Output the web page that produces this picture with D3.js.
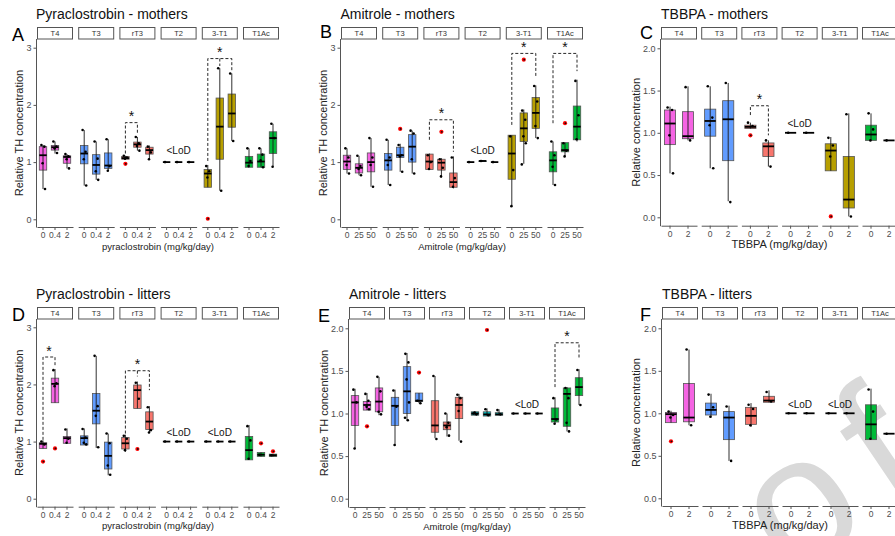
<!DOCTYPE html>
<html>
<head>
<meta charset="utf-8">
<script src="https://cdn.jsdelivr.net/npm/d3@7"></script>
<style>
body { margin: 0; background: #fff; }
svg { display: block; }
</style>
</head>
<body>
<script>
var FONT = '"Liberation Sans", Arial, sans-serif';

var analytes = ["T4", "T3", "rT3", "T2", "3-T1", "T1Ac"];
var colors = ["#F564E3", "#619CFF", "#F8766D", "#00BFC4", "#B79F00", "#00BA38"];
var dosesPyra = ["0", "0.4", "2"];
var dosesAmi = ["0", "25", "50"];
var dosesTbbpa = ["0", "2"];

// box stats per analyte, per dose: [lower whisker, q1, median, q3, upper whisker]
// points: individual animals; out: [analyte, dose, value]; sig: [analyte, from, to, top, left end, right end, middle end]
var boxA = [
	[[0.53,0.86,1.12,1.27,1.30],[1.15,1.21,1.26,1.29,1.36],[0.89,0.98,1.09,1.11,1.14]],
	[[0.59,0.97,1.15,1.29,1.56],[0.69,0.79,0.95,1.13,1.36],[0.85,0.89,0.94,1.16,1.40]],
	[[1.05,1.05,1.07,1.10,1.11],[1.20,1.26,1.31,1.35,1.44],[1.05,1.14,1.21,1.26,1.29]],
	[[1,1,1,1,1],[1,1,1,1,1],[1,1,1,1,1]],
	[[0.56,0.56,0.80,0.87,0.95],[0.50,1.05,1.62,2.12,2.64],[1.37,1.61,1.85,2.19,2.55]],
	[[0.91,0.91,0.99,1.10,1.24],[0.91,0.91,1.01,1.14,1.24],[0.92,1.15,1.42,1.53,1.67]]
];
var ptsA = [
	[[1.30,1.27,0.98,0.53],[1.36,1.27,1.24,1.16],[1.14,1.10,1.05,0.89]],
	[[1.56,1.18,1.05,0.59],[1.36,1.06,0.84,0.69],[1.40,0.93,0.85]],
	[[1.11,1.08,1.06],[1.44,1.33,1.28,1.20],[1.27,1.17,1.05]],
	[[1.0],[1.0],[1.0]],
	[[0.93,0.84,0.73],[2.64,0.50],[2.55,1.37]],
	[[1.24,1.02,0.93],[1.24,1.13,1.03,0.91],[1.67,1.42,0.92]]
];
var outA = [[2,0,0.97],[4,0,0.01]];
var sigA = [[2,0,1,1.69,1.15,1.50,null],[4,0,2,2.81,1.02,2.59,2.68]];
var lodA = [3];

var boxB = [
	[[0.80,0.87,1.01,1.12,1.24],[0.77,0.81,0.90,0.97,1.11],[0.57,0.83,1.00,1.16,1.42]],
	[[0.60,0.86,1.03,1.15,1.39],[0.83,1.08,1.12,1.26,1.32],[0.80,1.00,1.27,1.48,1.55]],
	[[0.87,0.87,1.01,1.14,1.15],[0.73,0.86,0.99,1.05,1.07],[0.54,0.56,0.65,0.81,1.10]],
	[[1,1,1,1,1],[1.01,1.01,1.02,1.02,1.03],[1,1,1,1,1]],
	[[0.23,0.70,1.15,1.47,1.47],[0.97,1.36,1.59,1.86,1.92],[1.42,1.59,1.86,2.13,2.34]],
	[[0.60,0.83,1.03,1.18,1.36],[1.10,1.18,1.21,1.34,1.34],[1.36,1.39,1.62,1.98,2.44]]
];
var ptsB = [
	[[1.24,1.08,0.95,0.80],[1.11,0.93,0.88,0.77],[1.42,1.08,0.95,0.57]],
	[[1.39,1.08,0.95,0.60],[1.30,1.12,1.10,0.83],[1.55,1.50,1.05,0.80]],
	[[1.12,1.00,0.88],[1.05,0.90,0.75],[1.08,0.72,0.57]],
	[[1.0],[1.02],[1.0]],
	[[1.45,0.86,0.23],[1.90,1.74,1.45,1.33,0.96],[2.33,2.06,1.63,1.42]],
	[[1.36,1.12,0.92,0.60],[1.33,1.20,1.10],[2.42,1.82,1.40]]
];
var outB = [[1,1,1.58],[2,1,1.53],[4,1,2.79],[5,1,1.68]];
var sigB = [[2,0,2,1.74,1.39,1.18,null],[4,0,2,2.90,1.65,2.49,null],[5,0,2,2.90,1.68,2.59,null]];
var lodB = [3];

var boxC = [
	[[0.52,0.86,1.11,1.27,1.31],[0.91,0.93,0.96,1.25,1.55]],
	[[0.58,0.96,1.14,1.28,1.55],[0.19,0.67,1.16,1.38,1.59]],
	[[1.05,1.05,1.07,1.09,1.12],[0.60,0.72,0.84,0.88,0.91]],
	[[1,1,1,1,1],[1,1,1,1,1]],
	[[0.55,0.55,0.79,0.87,0.95],[0.01,0.11,0.21,0.72,1.23]],
	[[0.91,0.91,0.98,1.09,1.23],[0.91,0.91,0.91,0.91,0.91]]
];
var ptsC = [
	[[1.30,1.27,0.97,0.52],[1.54,0.91]],
	[[1.55,1.18,1.09,0.58],[1.59,0.18]],
	[[1.12,1.08],[0.91,0.60]],
	[[1.0],[1.0]],
	[[0.94,0.85,0.72],[1.22,0.01]],
	[[1.23,1.04,0.91],[0.91]]
];
var outC = [[2,0,0.97],[4,0,0.01]];
var sigC = [[2,0,1,1.32,1.21,0.97,null]];
var lodC = [3];

var boxD = [
	[[0.88,0.88,0.96,0.98,1.02],[1.68,1.68,2.01,2.11,2.27],[0.97,0.97,1.06,1.09,1.23]],
	[[0.94,0.94,1.06,1.10,1.23],[0.89,1.31,1.54,1.84,2.50],[0.41,0.52,0.75,0.99,1.14]],
	[[0.82,0.87,0.97,1.07,1.12],[1.58,1.58,1.90,1.99,2.05],[1.16,1.21,1.35,1.52,1.62]],
	[[1,1,1,1,1],[1,1,1,1,1],[1,1,1,1,1]],
	[[1,1,1,1,1],[1,1,1,1,1],[1,1,1,1,1]],
	[[0.68,0.68,0.85,1.09,1.29],[0.74,0.74,0.77,0.81,0.81],[0.74,0.74,0.76,0.78,0.78]]
];
var ptsD = [
	[[1.00,0.95],[2.25,2.02,1.97],[1.21,1.05,0.98]],
	[[1.22,1.07,0.98,0.95],[2.50,1.62,1.45,0.90],[1.14,0.97,0.58,0.42]],
	[[1.10,1.05,0.85],[2.03,1.75],[1.60,1.20,1.16]],
	[[1.0],[1.0],[1.0]],
	[[1.0],[1.0],[1.0]],
	[[1.27,1.02,0.70],[0.77],[0.76]]
];
var outD = [[0,0,0.65],[0,1,0.88],[2,1,0.87],[5,1,0.97],[5,2,0.83]];
var sigD = [[0,0,1,2.48,1.03,2.33,null],[2,0,2,2.24,1.14,1.90,2.14]];
var lodD = [3, 4];

var boxE = [
	[[0.59,0.86,1.13,1.21,1.29],[1.04,1.04,1.10,1.14,1.24],[0.98,1.02,1.14,1.30,1.43]],
	[[0.62,0.86,1.09,1.19,1.28],[0.92,1.00,1.26,1.55,1.71],[1.12,1.14,1.15,1.24,1.24]],
	[[0.71,0.78,0.86,1.15,1.44],[0.73,0.81,0.86,0.90,1.00],[0.68,0.94,1.10,1.19,1.23]],
	[[0.98,0.98,1.00,1.02,1.02],[0.97,0.97,0.99,1.02,1.06],[0.98,0.98,0.99,1.01,1.05]],
	[[1,1,1,1,1],[1,1,1,1,1],[1,1,1,1,1]],
	[[0.88,0.90,0.935,1.065,1.19],[0.79,0.85,1.23,1.30,1.31],[1.10,1.21,1.31,1.42,1.52]]
];
var ptsE = [
	[[1.28,1.13,0.59],[1.23,1.15,1.08,1.05],[1.43,1.26,1.02,0.99]],
	[[1.27,1.08,0.63],[1.70,1.60,1.40,1.13,0.95,0.92],[1.15,1.12]],
	[[1.44,0.70],[1.00,0.89,0.84,0.74],[1.22,1.18,1.03,0.67]],
	[[1.0,0.99,1.01],[1.05,0.98],[1.04,0.99]],
	[[1.0],[1.0],[1.0]],
	[[1.18,0.93,0.88],[1.30,1.18,0.89,0.79],[1.51,1.10]]
];
var outE = [[0,1,0.85],[1,2,1.48],[3,1,1.98]];
var sigE = [[5,0,2,1.83,1.31,1.64,null]];
var lodE = [4];

var boxF = [
	[[0.89,0.89,0.99,1.01,1.03],[0.86,0.90,0.95,1.35,1.75]],
	[[0.95,0.98,1.04,1.12,1.23],[0.44,0.69,0.95,1.02,1.09]],
	[[0.84,0.87,0.97,1.07,1.12],[1.13,1.13,1.15,1.20,1.27]],
	[[1,1,1,1,1],[1,1,1,1,1]],
	[[1,1,1,1,1],[1,1,1,1,1]],
	[[0.69,0.69,0.87,1.10,1.29],[0.76,0.76,0.76,0.76,0.76]]
];
var ptsF = [
	[[1.02,0.98,0.95],[1.75,0.86]],
	[[1.22,1.07,0.96],[1.08,0.44]],
	[[1.10,1.05,0.86],[1.25,1.14]],
	[[1.0],[1.0]],
	[[1.0],[1.0]],
	[[1.28,1.02,0.70],[0.76]]
];
var outF = [[0,0,0.67]];
var sigF = [];
var lodF = [3, 4];

var yTicks3 = [0, 1, 2, 3];
var yTicks2 = [0, 0.5, 1, 1.5, 2];

// layout of the six panels
var panels = [
	{ title: "Pyraclostrobin - mothers", letter: "A", lx: 12, ly: 41, titleX: 36,
	  doses: dosesPyra, xlab: "pyraclostrobin (mg/kg/day)", xlabSize: 9.5, ylab: "Relative TH concentration", ylabX: 22.5,
	  x0: 37, step: 41.2, fw: 36, stripTop: 27, y0: 219.3, yMax: 3, yMaxPx: 47.7, bottom: 227,
	  ticks: yTicks3, fmt: "d", box: boxA, pts: ptsA, out: outA, sig: sigA, lod: lodA, lodY: 1.14 },
	{ title: "Amitrole - mothers", letter: "B", lx: 320, ly: 38, titleX: 340.5,
	  doses: dosesAmi, xlab: "Amitrole (mg/kg/day)", xlabSize: 9.5, ylab: "Relative TH concentration", ylabX: 327,
	  x0: 341, step: 41.2, fw: 36, stripTop: 27, y0: 219.3, yMax: 3, yMaxPx: 47.7, bottom: 227,
	  ticks: yTicks3, fmt: "d", box: boxB, pts: ptsB, out: outB, sig: sigB, lod: lodB, lodY: 1.14 },
	{ title: "TBBPA - mothers", letter: "C", lx: 640, ly: 39, titleX: 661,
	  doses: dosesTbbpa, xlab: "TBBPA (mg/kg/day)", xlabSize: 11, ylab: "Relative concentration", ylabX: 639.5,
	  x0: 661, step: 40.2, fw: 36, stripTop: 27, y0: 217.3, yMax: 2, yMaxPx: 48.3, bottom: 225.7,
	  ticks: yTicks2, fmt: ".1f", box: boxC, pts: ptsC, out: outC, sig: sigC, lod: lodC, lodY: 1.065 },
	{ title: "Pyraclostrobin - litters", letter: "D", lx: 12, ly: 320.5, titleX: 36,
	  doses: dosesPyra, xlab: "pyraclostrobin (mg/kg/day)", xlabSize: 9.5, ylab: "Relative TH concentration", ylabX: 22.5,
	  x0: 37, step: 41.2, fw: 36, stripTop: 307, y0: 498.7, yMax: 3, yMaxPx: 327.3, bottom: 506.7,
	  ticks: yTicks3, fmt: "d", box: boxD, pts: ptsD, out: outD, sig: sigD, lod: lodD, lodY: 1.10 },
	{ title: "Amitrole - litters", letter: "E", lx: 318, ly: 321.7, titleX: 349,
	  doses: dosesAmi, xlab: "Amitrole (mg/kg/day)", xlabSize: 9.5, ylab: "Relative TH concentration", ylabX: 327.5,
	  x0: 349, step: 40, fw: 36, stripTop: 307, y0: 498.7, yMax: 2, yMaxPx: 328.3, bottom: 507,
	  ticks: yTicks2, fmt: ".1f", box: boxE, pts: ptsE, out: outE, sig: sigE, lod: lodE, lodY: 1.07 },
	{ title: "TBBPA - litters", letter: "F", lx: 640, ly: 321, titleX: 662,
	  doses: dosesTbbpa, xlab: "TBBPA (mg/kg/day)", xlabSize: 11, ylab: "Relative concentration", ylabX: 640,
	  x0: 662, step: 40, fw: 36, stripTop: 307, y0: 498.3, yMax: 2, yMaxPx: 328.3, bottom: 506,
	  ticks: yTicks2, fmt: ".1f", box: boxF, pts: ptsF, out: outF, sig: sigF, lod: lodF, lodY: 1.06 }
];

var jitter = [-1.6, 1.4, -0.4, 2.0, -2.0, 0.8];

var svg = d3.select("body").append("svg")
	.attr("width", 895)
	.attr("height", 536)
	.style("font-family", FONT);

// proof watermark, behind the plots; only its tail shows in the corner
svg.append("text")
	.attr("transform", "translate(789.5,581.5) rotate(-34)")
	.attr("font-size", 182)
	.style("letter-spacing", "22px")
	.attr("fill", "#d9d9d9")
	.text("of");

panels.forEach(function(p) {
	var g = svg.append("g");
	var y = d3.scaleLinear().domain([0, p.yMax]).range([p.y0, p.yMaxPx]);
	var gap = p.step - p.fw;
	var fx = d3.scaleBand().domain(analytes)
		.range([p.x0, p.x0 + 6 * p.step - gap])
		.paddingInner(gap / p.step).paddingOuter(0);
	var ix = d3.scaleBand().domain(p.doses).range([0, p.fw]);
	var bw = ix.bandwidth() * 0.62;
	var plotTop = p.stripTop + 12;
	var cxOf = function(i, j) { return fx(analytes[i]) + ix(p.doses[j]) + ix.bandwidth() / 2; };

	g.append("text")
		.attr("x", p.titleX).attr("y", p.stripTop - 8)
		.attr("font-size", 14).attr("fill", "#111")
		.text(p.title);
	g.append("text")
		.attr("x", p.lx).attr("y", p.ly)
		.attr("font-size", 18).attr("fill", "#000")
		.text(p.letter);

	// y axis on the first facet only
	var ya = g.append("g")
		.attr("transform", "translate(" + (p.x0 - 0.5) + ",0)")
		.call(d3.axisLeft(y).tickValues(p.ticks).tickFormat(d3.format(p.fmt)).tickSize(3).tickPadding(2));
	ya.attr("font-family", FONT).attr("font-size", 9);
	ya.select(".domain").remove();
	ya.selectAll(".tick line").attr("stroke", "#555");
	ya.selectAll(".tick text").attr("fill", "#4d4d4d");
	g.append("line")
		.attr("x1", p.x0 - 0.5).attr("x2", p.x0 - 0.5)
		.attr("y1", plotTop).attr("y2", p.bottom + 0.5)
		.attr("stroke", "#555");

	g.append("text")
		.attr("transform", "translate(" + p.ylabX + "," + ((plotTop + p.bottom) / 2) + ") rotate(-90)")
		.attr("text-anchor", "middle")
		.attr("font-size", 11).attr("fill", "#222")
		.text(p.ylab);

	g.append("text")
		.attr("x", p.x0 + (6 * p.step - gap) / 2).attr("y", p.bottom + 22.5)
		.attr("text-anchor", "middle")
		.attr("font-size", p.xlabSize).attr("fill", "#222")
		.text(p.xlab);

	analytes.forEach(function(a, i) {
		var fg = g.append("g").attr("transform", "translate(" + fx(a) + ",0)");
		fg.append("rect")
			.attr("x", 0.5).attr("y", p.stripTop + 0.5)
			.attr("width", p.fw - 1).attr("height", 11.5)
			.attr("fill", "#fff").attr("stroke", "#555");
		fg.append("text")
			.attr("x", p.fw / 2).attr("y", p.stripTop + 8.7)
			.attr("text-anchor", "middle")
			.attr("font-size", 7.5).attr("fill", "#333")
			.text(a);

		var xa = fg.append("g")
			.attr("transform", "translate(0," + p.bottom + ")")
			.call(d3.axisBottom(ix).tickSize(3).tickSizeOuter(0).tickPadding(2.2));
		xa.attr("font-family", FONT).attr("font-size", 8.5);
		xa.select(".domain").attr("stroke", "#555");
		xa.selectAll(".tick line").attr("stroke", "#555");
		xa.selectAll(".tick text").attr("fill", "#4d4d4d");

		p.doses.forEach(function(d, j) {
			var s = p.box[i][j];
			var cx = ix(d) + ix.bandwidth() / 2;
			fg.append("rect")
				.attr("x", cx - bw / 2).attr("y", y(s[3]))
				.attr("width", bw).attr("height", Math.max(0, y(s[1]) - y(s[3])))
				.attr("fill", colors[i]).attr("stroke", "#555").attr("stroke-width", 0.8);
			fg.append("line")
				.attr("x1", cx).attr("x2", cx)
				.attr("y1", y(s[0])).attr("y2", y(s[4]))
				.attr("stroke", "#1a1a1a").attr("stroke-width", 0.9);
			fg.append("line")
				.attr("x1", cx - bw / 2).attr("x2", cx + bw / 2)
				.attr("y1", y(s[2])).attr("y2", y(s[2]))
				.attr("stroke", "#000").attr("stroke-width", 1.8);
			fg.selectAll(null)
				.data(p.pts[i][j])
				.enter().append("circle")
				.attr("cx", function(v, k) { return cx + jitter[k % jitter.length] * ix.bandwidth() / 12; })
				.attr("cy", function(v) { return y(v); })
				.attr("r", 1.3)
				.attr("fill", "#000");
		});
	});

	// outliers
	p.out.forEach(function(o) {
		var cx = cxOf(o[0], o[1]);
		g.append("circle").attr("cx", cx).attr("cy", y(o[2])).attr("r", 2.1).attr("fill", "#f00");
		g.append("circle").attr("cx", cx + 0.4).attr("cy", y(o[2])).attr("r", 0.9).attr("fill", "#111");
	});

	// significance brackets
	p.sig.forEach(function(s) {
		var xl = cxOf(s[0], s[1]), xr = cxOf(s[0], s[2]);
		var path = "M" + xl + "," + y(s[4]) + "V" + y(s[3]) + "H" + xr + "V" + y(s[5]);
		if (s[6] != null) {
			var xm = cxOf(s[0], 1);
			path += "M" + xm + "," + y(s[3]) + "V" + y(s[6]);
		}
		g.append("path")
			.attr("d", path)
			.attr("fill", "none").attr("stroke", "#111")
			.attr("stroke-width", 0.9).attr("stroke-dasharray", "3,2");
		g.append("text")
			.attr("x", (xl + xr) / 2).attr("y", y(s[3]) - 1.5)
			.attr("text-anchor", "middle")
			.attr("font-size", 14).attr("fill", "#111")
			.text("*");
	});

	// below limit of detection
	p.lod.forEach(function(i) {
		g.append("text")
			.attr("x", fx(analytes[i]) + p.fw / 2).attr("y", y(p.lodY))
			.attr("text-anchor", "middle")
			.attr("font-size", 10).attr("fill", "#111")
			.text("<LoD");
	});
});
</script>
</body>
</html>
